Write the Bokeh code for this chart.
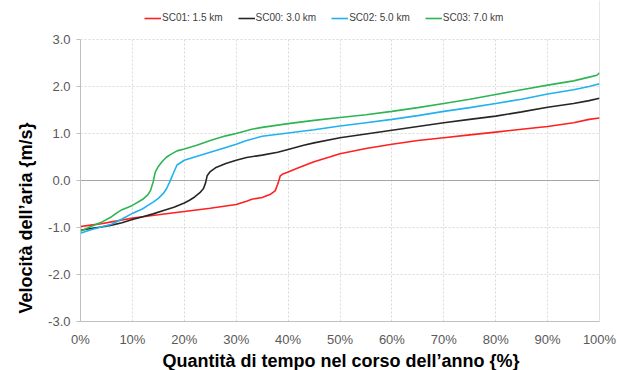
import numpy as np
from bokeh.plotting import figure
from bokeh.models import (Legend, LegendItem, Title, Span, FixedTicker, Range1d, BoxAnnotation,
                          LinearAxis)
from bokeh.embed import file_html
from bokeh.resources import INLINE

# ---------------- data ----------------
series_names = ["SC01: 1.5 km", "SC00: 3.0 km", "SC02: 5.0 km", "SC03: 7.0 km"]
series_colors = ["#FF2020", "#262626", "#21B2EE", "#2DB553"]

sc01_x = [0, 2, 4, 6, 8, 10, 12, 15, 20, 25, 30, 32, 33, 35, 36.5, 37.5, 38, 38.5, 39, 40,
          42, 45, 48, 50, 55, 60, 65, 70, 75, 80, 85, 90, 95, 98, 100]
sc01_y = [-0.98, -0.95, -0.92, -0.88, -0.84, -0.80, -0.77, -0.73, -0.66, -0.59,
          -0.51, -0.44, -0.40, -0.36, -0.30, -0.22, -0.08, 0.10, 0.14, 0.18,
          0.27, 0.40, 0.50, 0.57, 0.68, 0.77, 0.85, 0.91, 0.97, 1.03,
          1.09, 1.15, 1.23, 1.30, 1.33]

sc00_x = [0, 2, 4, 6, 8, 10, 12, 14, 16, 18, 20, 21, 22, 23, 23.7, 24.1, 24.4, 25, 26, 28,
          30, 32, 35, 38, 40, 43, 45, 50, 55, 60, 65, 70, 75, 80, 85, 90, 95, 98, 100]
sc00_y = [-1.06, -1.02, -0.99, -0.95, -0.90, -0.83, -0.77, -0.71, -0.64, -0.57,
          -0.48, -0.42, -0.35, -0.26, -0.17, -0.05, 0.10, 0.19, 0.27, 0.36,
          0.43, 0.49, 0.54, 0.60, 0.66, 0.75, 0.80, 0.91, 0.99, 1.07,
          1.15, 1.23, 1.30, 1.37, 1.46, 1.56, 1.64, 1.70, 1.75]

sc02_x = [0, 2, 4, 6, 8, 10, 12, 13, 14, 15, 16, 16.6, 17.1, 17.5, 18, 18.6, 20, 22, 25, 28,
          30, 32, 35, 40, 45, 50, 55, 60, 65, 70, 75, 80, 85, 90, 95, 98, 100]
sc02_y = [-1.12, -1.05, -0.99, -0.93, -0.82, -0.70, -0.60, -0.53, -0.46, -0.38,
          -0.27, -0.17, -0.05, 0.05, 0.18, 0.33, 0.43, 0.50, 0.60, 0.70,
          0.77, 0.85, 0.94, 1.01, 1.08, 1.16, 1.23, 1.30, 1.38, 1.47,
          1.55, 1.64, 1.73, 1.84, 1.93, 2.00, 2.06]

sc03_x = [0, 2, 4, 6, 7, 8, 10, 12, 13, 13.5, 14, 14.4, 15, 15.7, 16.5, 17.3, 18.6, 20, 22.4, 25,
          28, 30, 33, 35, 40, 45, 50, 55, 60, 65, 70, 75, 80, 85, 90, 95, 98, 99.5, 100]
sc03_y = [-1.08, -0.98, -0.89, -0.77, -0.69, -0.62, -0.53, -0.40, -0.30, -0.21,
          -0.03, 0.18, 0.30, 0.40, 0.49, 0.55, 0.63, 0.67, 0.75, 0.85,
          0.95, 1.00, 1.09, 1.13, 1.21, 1.28, 1.34, 1.40, 1.47, 1.55,
          1.64, 1.73, 1.83, 1.93, 2.03, 2.12, 2.20, 2.24, 2.29]

x_ticks = [0, 10, 20, 30, 40, 50, 60, 70, 80, 90, 100]
x_tick_labels = ["0%", "10%", "20%", "30%", "40%", "50%", "60%", "70%", "80%", "90%", "100%"]
y_ticks = [-3, -2, -1, 0, 1, 2, 3]
y_tick_labels = ["-3.0", "-2.0", "-1.0", "0.0", "1.0", "2.0", "3.0"]

x_title = "Quantità di tempo nel corso dell\u2019anno {%}"
y_title = "Velocità dell\u2019aria {m/s}"

FONT = "Liberation Sans"
GRID = "#D9D9D9"
AXIS = "#BFBFBF"

# layout: the plot frame reaches the top of the canvas so the legend can sit in it;
# the band above 3.0 is masked white.
Y_LO, Y_HI = y_ticks[0], y_ticks[-1]
TOP_PAD_PX, AREA_PX = 39, 282
y_end = Y_HI + TOP_PAD_PX * (Y_HI - Y_LO) / AREA_PX

# ---------------- figure ----------------
p = figure(width=617, height=370, x_range=Range1d(0, 100), y_range=Range1d(Y_LO, y_end),
           output_backend="svg", toolbar_location=None,
           min_border_left=80, min_border_right=18, min_border_top=0, min_border_bottom=49)
p.outline_line_color = None
p.background_fill_color = "white"
p.border_fill_color = "white"

for ax in (p.xaxis[0], p.yaxis[0]):
    ax.axis_line_color = AXIS
    ax.major_tick_line_color = AXIS
    ax.minor_tick_line_color = None
    ax.major_label_text_font = FONT
    ax.major_label_text_font_size = "13px"
    ax.major_label_text_color = "#595959"

p.xaxis.ticker = FixedTicker(ticks=x_ticks)
p.xaxis.major_label_overrides = {t: l for t, l in zip(x_ticks, x_tick_labels)}
p.xaxis.major_tick_out = 0
p.xaxis.major_tick_in = 0
p.xaxis.major_label_standoff = 10

p.yaxis.ticker = FixedTicker(ticks=y_ticks)
p.yaxis.bounds = (Y_LO, Y_HI)
p.yaxis.major_label_overrides = {t: l for t, l in zip(y_ticks, y_tick_labels)}
p.yaxis.major_tick_out = 4
p.yaxis.major_tick_in = 0
p.yaxis.major_label_standoff = 6

p.xgrid.grid_line_color = GRID
p.xgrid.grid_line_dash = "2 2"
p.ygrid.grid_line_color = GRID
p.ygrid.grid_line_dash = "2 2"

p.add_layout(Span(location=0, dimension="width", line_color="#A6A6A6", line_width=1,
                  level="underlay"))
p.add_layout(Span(location=100, dimension="height", line_color=AXIS, line_width=1,
                  level="underlay"))
p.add_layout(BoxAnnotation(bottom=Y_HI + 0.012, fill_color="white", fill_alpha=1,
                           line_color=None, level="underlay"))

xs = [sc01_x, sc00_x, sc02_x, sc03_x]
ys = [sc01_y, sc00_y, sc02_y, sc03_y]
renderers = []
for x, y, c in zip(xs, ys, series_colors):
    renderers.append(p.line(x, y, line_color=c, line_width=1.6))

items = [LegendItem(label=n, renderers=[r]) for n, r in zip(series_names, renderers)]
legend = Legend(items=items, orientation="horizontal", location=(64, 298),
                label_text_font=FONT, label_text_font_size="10px", label_text_color="#404040",
                glyph_width=17, glyph_height=10, label_height=10, label_standoff=1,
                spacing=15, padding=0, margin=0, border_line_color=None,
                background_fill_alpha=0)
p.add_layout(legend)

p.add_layout(Title(text=x_title, align="left", offset=82, standoff=-1,
                   text_font=FONT, text_font_size="18px", text_font_style="bold",
                   text_color="black"), "below")

# invisible spacer between the tick labels and the vertical title
spacer = LinearAxis(ticker=FixedTicker(ticks=[]), major_tick_out=10, minor_tick_out=0,
                    major_tick_in=0, minor_tick_in=0, major_label_standoff=0,
                    axis_line_color=None, major_tick_line_color=None,
                    minor_tick_line_color=None)
p.add_layout(spacer, "left")
p.add_layout(Title(text=y_title, align="left", offset=8, standoff=15, vertical_align="top",
                   text_font=FONT, text_font_size="18px", text_font_style="bold",
                   text_color="black"), "left")

open("out.html", "w").write(file_html(p, INLINE))
